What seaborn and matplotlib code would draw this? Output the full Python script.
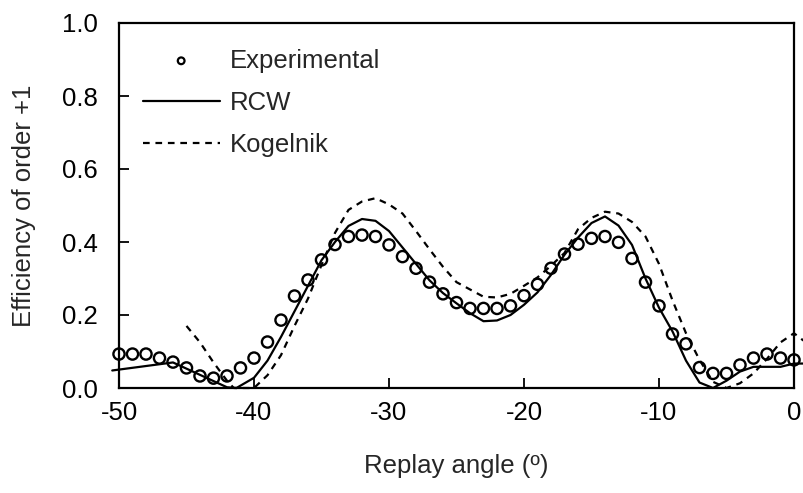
import numpy as np
import pandas as pd
import matplotlib
matplotlib.use("Agg")
import matplotlib.pyplot as plt
import seaborn as sns

# Experimental data (replay angle in degrees, efficiency of order +1)
exp_angle = list(range(-50, 1))
exp_eff = [0.093, 0.093, 0.093, 0.082, 0.071, 0.055, 0.033, 0.027, 0.033, 0.055,
           0.082, 0.126, 0.186, 0.252, 0.296, 0.351, 0.393, 0.415, 0.419, 0.415,
           0.392, 0.360, 0.328, 0.290, 0.258, 0.234, 0.218, 0.218, 0.218, 0.225,
           0.253, 0.284, 0.328, 0.367, 0.394, 0.410, 0.415, 0.399, 0.355, 0.290,
           0.225, 0.148, 0.121, 0.056, 0.040, 0.040, 0.063, 0.082, 0.093, 0.082,
           0.077]

# RCW theory
rcw_angle = [-50.5, -46, -42, -41.3, -40, -39, -38, -37, -36, -35, -34, -33, -32,
             -31, -30, -29, -28, -27, -26, -25, -24, -23, -22, -21, -20, -19,
             -18, -17, -16, -15, -14, -13, -12, -11, -10, -9, -8, -7, -6, -5,
             -4, -3, -2, -1, 0, 0.8]
rcw_eff = [0.048, 0.070, 0.002, 0.0, 0.028, 0.075, 0.140, 0.210, 0.280, 0.350,
           0.400, 0.444, 0.463, 0.458, 0.430, 0.385, 0.340, 0.295, 0.260, 0.232,
           0.205, 0.183, 0.185, 0.200, 0.228, 0.262, 0.310, 0.365, 0.412, 0.452,
           0.470, 0.445, 0.392, 0.300, 0.220, 0.155, 0.075, 0.015, 0.0, 0.020,
           0.045, 0.058, 0.058, 0.058, 0.067, 0.067]

# Kogelnik theory
kog_angle = [-45, -44, -43, -42, -41.5, -40, -39, -38, -37, -36, -35, -34, -33,
             -32, -31, -30, -29, -28, -27, -26, -25, -24, -23, -22, -21, -20,
             -19, -18, -17, -16, -15, -14, -13, -12, -11, -10, -9, -8, -7, -6,
             -5, -4, -3, -2, -1, 0, 0.7]
kog_eff = [0.170, 0.125, 0.070, 0.020, 0.0, 0.0, 0.035, 0.090, 0.170, 0.245,
           0.337, 0.425, 0.488, 0.511, 0.520, 0.503, 0.478, 0.430, 0.380, 0.332,
           0.290, 0.270, 0.250, 0.248, 0.258, 0.280, 0.303, 0.335, 0.370, 0.435,
           0.466, 0.483, 0.478, 0.455, 0.415, 0.340, 0.240, 0.150, 0.077, 0.017,
           0.0, 0.013, 0.040, 0.080, 0.125, 0.150, 0.130]

x_ticks = [-50, -40, -30, -20, -10, 0]
y_ticks = [0.0, 0.2, 0.4, 0.6, 0.8, 1.0]
x_tick_labels = ["-50", "-40", "-30", "-20", "-10", "0"]
y_tick_labels = ["0.0", "0.2", "0.4", "0.6", "0.8", "1.0"]

sns.set_style("ticks")
plt.rcParams["font.family"] = ["Liberation Sans", "DejaVu Sans"]
plt.rcParams["axes.unicode_minus"] = False

fig = plt.figure(figsize=(8.04, 4.93), dpi=100)
ax = fig.add_axes([119 / 804, 1 - 388 / 493, (794 - 119) / 804, (388 - 23) / 493])

df_exp = pd.DataFrame({"angle": exp_angle, "eff": exp_eff})
df_rcw = pd.DataFrame({"angle": rcw_angle, "eff": rcw_eff})
df_kog = pd.DataFrame({"angle": kog_angle, "eff": kog_eff})

sns.scatterplot(data=df_exp, x="angle", y="eff", ax=ax, marker="o", s=65,
                facecolor="none", edgecolor="black", linewidth=1.7,
                label="Experimental", zorder=3, clip_on=False)
sns.lineplot(data=df_rcw, x="angle", y="eff", ax=ax, color="black", lw=1.6,
             sort=False, estimator=None, label="RCW", clip_on=False)
sns.lineplot(data=df_kog, x="angle", y="eff", ax=ax, color="black", lw=1.6,
             linestyle=(0, (3, 2.6)), sort=False, estimator=None,
             label="Kogelnik", clip_on=False)

ax.set_xlim(-50, 0)
ax.set_ylim(0, 1.0)
ax.set_xticks(x_ticks)
ax.set_xticklabels(x_tick_labels)
ax.set_yticks(y_ticks)
ax.set_yticklabels(y_tick_labels)
ax.tick_params(axis="both", direction="in", length=7, width=1.3, colors="black",
               labelsize=18.5)
ax.tick_params(axis="y", pad=15)
ax.tick_params(axis="x", pad=9)
for sp in ax.spines.values():
    sp.set_visible(True)
    sp.set_linewidth(1.6)
    sp.set_color("black")

ax.set_xlabel("Replay angle (º)", fontsize=18.5, labelpad=21)
ax.set_ylabel("Efficiency of order +1", fontsize=18.5, labelpad=19)

leg = ax.legend(loc="upper left", bbox_to_anchor=(0.035, 0.93), frameon=False,
                fontsize=18.5, handlelength=3.0, handletextpad=0.4,
                labelspacing=0.7, borderpad=0, borderaxespad=0, markerscale=0.6)
for h in leg.legend_handles:
    try:
        h.set_linewidth(1.6)
    except Exception:
        pass

fig.savefig("out.png", dpi=100)
